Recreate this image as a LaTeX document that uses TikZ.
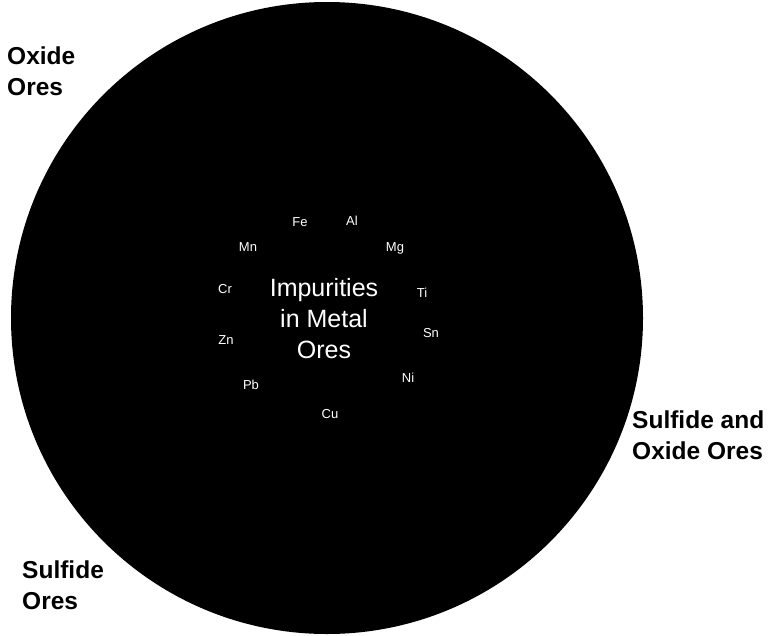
\documentclass[tikz,border=0pt]{standalone}
\usepackage{fontspec}
\setmainfont{Liberation Sans}
\usetikzlibrary{
    positioning,
}
\tikzset{
    orelabel/.style={font=\fontsize{24.5}{31}\selectfont\bfseries, align=left, inner sep=0pt, anchor=north west},
    element/.style={font=\fontsize{13}{13}\selectfont, text=white, inner sep=0pt, text height=9.3pt, text depth=0pt},
    core/.style={font=\fontsize{25}{31}\selectfont, text=white, align=center, inner sep=0pt},
}

\begin{document}
\begin{tikzpicture}[x=1pt, y=-1pt]
        \useasboundingbox (0,0) rectangle (768,635);
        % the ore circle
        \fill[black] (327,318) circle (316);
        \node[core] (impurities) at (324,319) {Impurities\\in Metal\\Ores};
        % elements round the centre
        \foreach \name/\x/\y/\sym in {
            fe/300/222/Fe, al/352/221/Al, mn/248/247/Mn, mg/395/247/Mg,
            cr/225/289/Cr, ti/422/293/Ti, zn/226/340/Zn, sn/431/333/Sn,
            pb/251/385/Pb, ni/408/378/Ni, cu/330/414/Cu}
            \node[element] (\name) at (\x,\y) {\sym};
        % ore groups
        \node[orelabel] (oxide) at (7,47) {Oxide\\Ores};
        \node[orelabel] (mixed) at (632,411) {Sulfide and\\Oxide Ores};
        \node[orelabel] (sulfide) at (22,561) {Sulfide\\Ores};
    \end{tikzpicture}
\end{document}
